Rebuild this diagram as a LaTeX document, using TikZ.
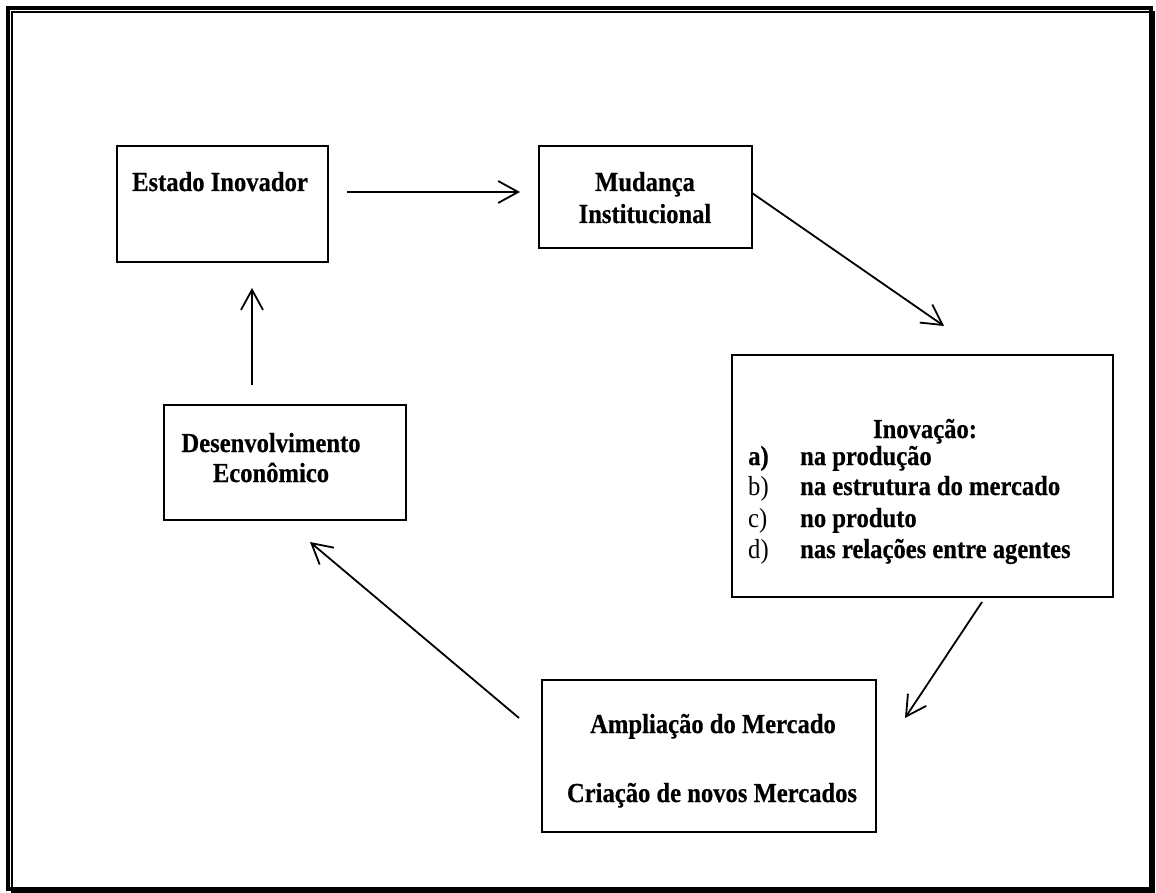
\documentclass[tikz,border=0pt]{standalone}
\usepackage{fontspec}
\setmainfont[FakeStretch=0.895,BoldFeatures={FakeBold=0.5}]{Liberation Serif}
\usetikzlibrary{arrows.meta}
\begin{document}
\begin{tikzpicture}[x=1pt,y=-1pt,
  box/.style={draw,line width=2pt,inner sep=0pt},
  txt/.style={anchor=base,inner sep=0pt,font=\fontsize{27.5}{32}\selectfont\bfseries},
  txtl/.style={anchor=base west,inner sep=0pt,font=\fontsize{27.5}{32}\selectfont\bfseries},
  lblr/.style={anchor=base west,inner sep=0pt,font=\fontsize{27.5}{32}\selectfont},
  conn/.style={line width=1.8pt,-{Straight Barb[length=20pt,width=22pt,line width=1.8pt]}}
]
\useasboundingbox (0,0) rectangle (1156,893);
% page border
\draw[line width=4pt] (8,8) rectangle (1150.5,888.5);
\draw[line width=2pt] (12,12) rectangle (1154,892);

% boxes
\node[box,minimum width=211,minimum height=116] (estado) at (222.5,204) {};
\node[box,minimum width=213,minimum height=102] (mudanca) at (645.5,197) {};
\node[box,minimum width=381,minimum height=242] (inovacao) at (922.5,476) {};
\node[box,minimum width=334,minimum height=152] (ampliacao) at (709,756) {};
\node[box,minimum width=242,minimum height=115] (desenv) at (285,462.5) {};

% texts
\node[txt] (testado) at (220,191) {Estado Inovador};
\node[txt] (tmud1) at (645,191) {Mudança};
\node[txt] (tmud2) at (645,223) {Institucional};
\node[txt] (tdes1) at (271,452) {Desenvolvimento};
\node[txt] (tdes2) at (271,482) {Econômico};
\node[txt] (tamp1) at (713,733) {Ampliação do Mercado};
\node[txt] (tamp2) at (712,802) {Criação de novos Mercados};
\node[txt] (tinov) at (925,438) {Inovação:};
\node[txtl] (la) at (748,465) {a)};
\node[txtl] (ta) at (800,465) {na produção};
\node[lblr] (lb) at (748,495) {b)};
\node[txtl] (tb) at (800,495) {na estrutura do mercado};
\node[lblr] (lc) at (748,527) {c)};
\node[txtl] (tc) at (800,527) {no produto};
\node[lblr] (ld) at (748,558) {d)};
\node[txtl] (td) at (800,558) {nas relações entre agentes};

% connector end points
\coordinate (e1) at (347,192);
\coordinate (e2) at (520,192);
\coordinate (m1) at (752,193);
\coordinate (m2) at (944,326);
\coordinate (i1) at (982,602);
\coordinate (i2) at (905,718);
\coordinate (a1) at (519,718);
\coordinate (a2) at (310,542);
\coordinate (d1) at (252,385);
\coordinate (d2) at (252,288);

\draw[conn] (e1) -- (e2);
\draw[conn] (m1) -- (m2);
\draw[conn] (i1) -- (i2);
\draw[conn] (a1) -- (a2);
\draw[conn] (d1) -- (d2);
\end{tikzpicture}
\end{document}
